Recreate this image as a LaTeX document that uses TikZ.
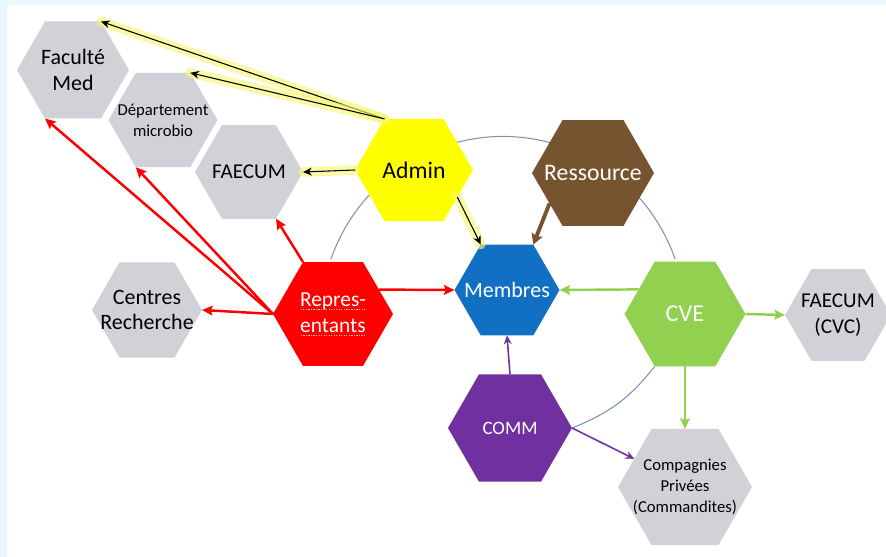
\documentclass[tikz,border=0pt]{standalone}
\usepackage{fontspec}
\setmainfont{Carlito}
\usetikzlibrary{shapes.geometric, arrows.meta, positioning}
\definecolor{hexgray}{RGB}{208,210,216}
\definecolor{adminyellow}{RGB}{255,255,0}
\definecolor{resbrown}{RGB}{118,84,48}
\definecolor{memblue}{RGB}{18,112,196}
\definecolor{cvegreen}{RGB}{146,208,80}
\definecolor{repred}{RGB}{255,0,0}
\definecolor{commpurple}{RGB}{112,48,160}
\definecolor{ringgray}{RGB}{128,146,176}
\definecolor{bgcyan}{RGB}{233,248,250}
\definecolor{glowyellow}{RGB}{246,246,120}
\definecolor{spellpink}{RGB}{255,190,190}

% soulignement pointille (correcteur)
\newcommand\spellmark[1]{\setbox0\hbox{#1}\rlap{\raisebox{-0.35ex}{\textcolor{spellpink}{\hbox to\wd0{\xleaders\hbox to 1.4pt{\hss\rule{0.7pt}{0.6pt}\hss}\hfill}}}}\box0}

\tikzset{
  hexa/.style={regular polygon, regular polygon sides=6, inner sep=0pt, outer sep=0pt, draw=none},
  hextext/.style={align=center, inner sep=0pt},
  glow/.style={preaction={draw=glowyellow, line width=5.5pt, opacity=0.65, line cap=round, -}},
  adminarrow/.style={black, line width=0.6pt, glow, -{Stealth[length=5pt, width=4.5pt]}},
  reparrow/.style={repred, line width=1.4pt, -{Stealth[length=6pt, width=5.5pt, inset=1pt]}},
  cvearrow/.style={cvegreen, line width=1.4pt, -{Stealth[length=6pt, width=5.5pt, inset=1pt]}},
  commarrow/.style={commpurple, line width=0.9pt, -{Stealth[length=5pt, width=4.5pt]}},
  resarrow/.style={resbrown, line width=2.2pt, -{Stealth[length=6pt, width=6.5pt, inset=1pt]}},
  ring/.style={ringgray, line width=0.6pt}
}

\begin{document}
\begin{tikzpicture}
        \useasboundingbox (0,0) rectangle (17.72,11.14);
        \fill[bgcyan] (0,0) rectangle (17.72,11.14);
        \fill[white] (0.14,0) rectangle (17.72,11.04);

        % cercle derriere les hexagones
        \coordinate (ringc) at (10.06,4.77);
        \draw[ring] ([shift={(19:3.64)}]ringc) arc[start angle=19, end angle=161, radius=3.64];

        % Faculte, departement, FAECUM
        \node[hexa, fill=hexgray, minimum size=2.24cm] (fac) at (1.46,9.74) {};
        \node[hextext, font=\fontsize{12.5}{14.5}\selectfont] (facT) at (fac) {Faculté\\Med};
        \node[hexa, fill=hexgray, minimum size=2.18cm] (dep) at (3.26,8.74) {};
        \node[hextext, font=\fontsize{9.5}{12}\selectfont] (depT) at (dep) {Département\\microbio};
        \node[hexa, fill=hexgray, minimum size=2.16cm] (fae) at (4.98,7.70) {};
        \node[hextext, font=\fontsize{12}{14}\selectfont] (faeT) at (fae) {FAECUM};

        % Admin
        \node[hexa, fill=adminyellow, minimum size=2.36cm] (admin) at (8.28,7.74) {};
        \node[hextext, font=\fontsize{13.5}{15}\selectfont] (adminT) at (admin) {Admin};

        % Ressource
        \node[hexa, fill=resbrown, minimum size=2.44cm] (res) at (11.86,7.68) {};
        \node[hextext, white, font=\fontsize{13.5}{15}\selectfont] (resT) at (res) {Ressource};

        % Membres
        \node[hexa, fill=memblue, minimum size=2.10cm] (mem) at (10.14,5.34) {};
        \node[hextext, white, font=\fontsize{12.5}{14}\selectfont] (memT) at (mem) {Membres};

        % Representants et centres
        \node[hexa, fill=repred, minimum size=2.40cm] (rep) at (6.66,4.86) {};
        \node[hextext, white, font=\fontsize{12.2}{14.8}\selectfont] (repT) at (rep) {\spellmark{Repres-}\\\spellmark{entants}};
        \node[hexa, fill=hexgray, minimum size=2.20cm] (cen) at (2.94,4.94) {};
        \node[hextext, font=\fontsize{12.5}{14.5}\selectfont] (cenT) at (cen) {Centres\\Recherche};

        % CVE
        \node[hexa, fill=cvegreen, minimum size=2.42cm] (cve) at (13.70,4.86) {};
        \node[hextext, white, font=\fontsize{13.8}{15}\selectfont] (cveT) at (cve) {CVE};
        \node[hexa, fill=hexgray, minimum size=2.12cm] (cvc) at (16.76,4.84) {};
        \node[hextext, font=\fontsize{12}{14.5}\selectfont] (cvcT) at (cvc) {FAECUM\\(CVC)};

        % COMM et compagnies
        \node[hexa, fill=commpurple, minimum size=2.48cm] (comm) at (10.20,2.58) {};
        \node[hextext, white, font=\fontsize{10.8}{12}\selectfont] (commT) at (comm) {COMM};
        \node[hexa, fill=hexgray, minimum size=2.68cm] (comp) at (13.70,1.40) {};
        \node[hextext, font=\fontsize{9.5}{12}\selectfont] (compT) at (comp) {Compagnies\\Privées\\(Commandites)};

        % arc COMM - CVE
        \draw[ring] (comm.0) to[bend right=15] (cve.240);

        % fleches Admin
        \draw[adminarrow] (admin.120) -- (fac.60);
        \draw[adminarrow] (admin.120) -- (dep.60);
        \draw[adminarrow] (admin.180) -- (fae.0);
        \draw[adminarrow] (admin.-32) -- (mem.120);

        % Ressource
        \draw[resarrow] (res.215) -- (mem.60);

        % fleches Representants
        \draw[reparrow] (rep.28) -- (mem.180);
        \draw[reparrow] (rep.180) -- (cen.0);
        \draw[reparrow] (rep.180) -- (fac.240);
        \draw[reparrow] (rep.180) -- (dep.240);
        \draw[reparrow] (rep.120) -- (fae.300);

        % fleches CVE
        \draw[cvearrow] (cve.152) -- (mem.0);
        \draw[cvearrow] (cve.0) -- (cvc.180);
        \draw[cvearrow] (cve.270) -- (comp.90);

        % fleches COMM
        \draw[commarrow] (comm.90) -- (mem.270);
        \draw[commarrow] (comm.0) -- (comp.151);
    \end{tikzpicture}
\end{document}
